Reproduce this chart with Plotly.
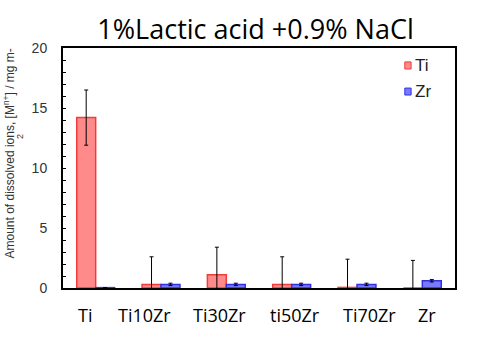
import plotly.graph_objects as go

categories = ["Ti", "Ti10Zr", "Ti30Zr", "ti50Zr", "Ti70Zr", "Zr"]
ti_values = [14.2, 0.3, 1.1, 0.3, 0.05, 0.0]
ti_errors = [2.3, 2.3, 2.3, 2.3, 2.35, 2.3]
zr_values = [0.03, 0.3, 0.3, 0.3, 0.3, 0.6]
zr_errors = [0.0, 0.1, 0.1, 0.1, 0.1, 0.1]
y_ticks = [0, 5, 10, 15, 20]
series_names = ["Ti", "Zr"]

# style: horizontal offsets (px) of the category labels, as placed in the original
label_offsets = [-11, -16.5, -6.5, 3.5, 12.5, 4.5]
ti_color = "#ff8a8a"
zr_color = "#7a7aff"

fig = go.Figure()
fig.add_trace(go.Bar(
    x=categories, y=ti_values, name=series_names[0], showlegend=False,
    marker=dict(color=ti_color, line=dict(color="#f03c3c", width=1.5)),
    error_y=dict(type="data", array=ti_errors, color="black", thickness=1, width=2),
))
fig.add_trace(go.Bar(
    x=categories, y=zr_values, name=series_names[1], showlegend=False,
    marker=dict(color=zr_color, line=dict(color="#3030e0", width=1.5)),
    error_y=dict(type="data", array=zr_errors, color="black", thickness=1, width=2),
))

fig.update_layout(
    width=484, height=340,
    margin=dict(l=63, r=29, t=48, b=52),
    paper_bgcolor="white", plot_bgcolor="white",
    barmode="group", bargap=0.42, bargroupgap=0,
    showlegend=False,
    title=dict(text="1%Lactic acid +0.9% NaCl", x=0.528, xanchor="center",
               y=0.912, yanchor="middle",
               font=dict(family="Open Sans", size=27, color="black")),
)
fig.update_xaxes(
    showline=True, linecolor="black", linewidth=2, mirror=True,
    ticks="", showticklabels=False,
)
fig.update_yaxes(
    range=[0, 20], tickvals=y_ticks, showgrid=False, zeroline=False,
    showline=True, linecolor="black", linewidth=2, mirror=True,
    ticks="inside", ticklen=3, tickcolor="black", tickwidth=1,
    minor=dict(dtick=1, ticks="inside", ticklen=3, tickcolor="black", tickwidth=1),
    tickfont=dict(family="Liberation Sans", size=14, color="#333"),
    ticklabelstandoff=11,
)

# category labels
for cat, off in zip(categories, label_offsets):
    fig.add_annotation(
        x=cat, xref="x", y=0, yref="paper", yanchor="top", yshift=-13, xshift=off,
        text=cat, showarrow=False,
        font=dict(family="Open Sans", size=18, color="black"),
    )

# legend (small square swatches with labels)
legend_items = [(series_names[0], ti_color, "#f03c3c", 0.9125, 0.942),
                (series_names[1], zr_color, "#3030e0", 0.804, 0.833)]
for name, fill, edge, y0, y1 in legend_items:
    fig.add_shape(type="rect", xref="paper", yref="paper",
                  x0=0.872, x1=0.888, y0=y0, y1=y1,
                  fillcolor=fill, line=dict(color=edge, width=1))
    fig.add_annotation(x=0.893, y=(y0 + y1) / 2, xref="paper", yref="paper",
                       xanchor="left", yanchor="middle", text=name, showarrow=False,
                       font=dict(family="Liberation Sans", size=17, color="#222"))

# y-axis title (with its wrapped "2")
fig.add_annotation(
    text="Amount of dissolved ions, [M<sup>n+</sup>] / mg m-",
    xref="paper", yref="paper", x=-0.138, y=0.56, xanchor="center", yanchor="middle",
    textangle=-90, showarrow=False,
    font=dict(family="Liberation Sans", size=12, color="#333"),
)
fig.add_annotation(
    text="2", xref="paper", yref="paper", x=-0.109, y=0.63,
    xanchor="center", yanchor="middle", textangle=-90, showarrow=False,
    font=dict(family="Liberation Sans", size=9, color="#333"),
)
fig.write_html("out.html", config={"displayModeBar": False},
               post_script="document.body.style.margin='0';")
